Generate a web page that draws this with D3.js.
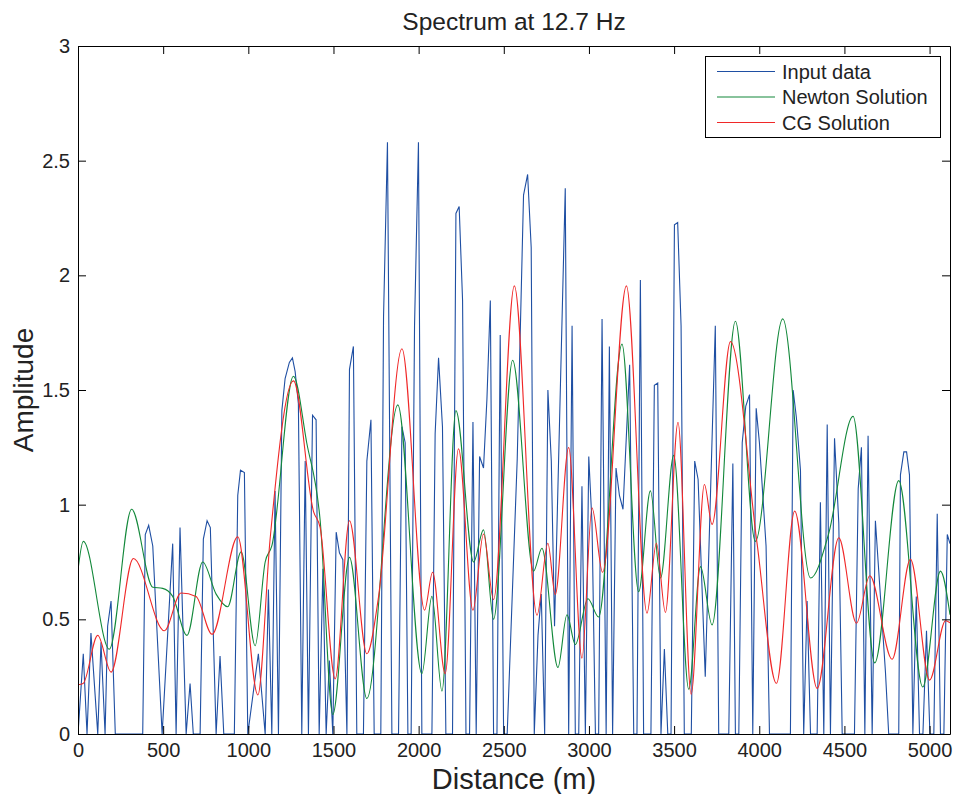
<!DOCTYPE html>
<html>
<head>
<meta charset="utf-8">
<script src="https://cdn.jsdelivr.net/npm/d3@7"></script>
<style>
  body { margin: 0; background: #fff; }
  text { font-family: "Liberation Sans", Arial, Helvetica, sans-serif; fill: #222; }
</style>
</head>
<body>
<svg id="chart" width="957" height="794"></svg>
<script>
// tick labels
var xTicks = [0, 500, 1000, 1500, 2000, 2500, 3000, 3500, 4000, 4500, 5000];
var yTicks = [0, 0.5, 1, 1.5, 2, 2.5, 3];

var seriesNames = ["Input data", "Newton Solution", "CG Solution"];

// [distance (m), amplitude]
var inputData = [
  [0,0],[31,0.35],[53,0],[76,0.44],[116,0],[135,0.40],[159,0],[174,0.47],[194,0.58],[219,0],
  [380,0],[395,0.87],[415,0.91],[439,0.82],[494,0],[556,0.83],[576,0],[599,0.90],[635,0],[658,0.22],[677,0],
  [717,0],[736,0.85],[758,0.93],[777,0.90],[811,0],[834,0.34],[856,0],[918,0],[938,1.04],[954,1.15],[977,1.14],[997,0],
  [1059,0.35],[1099,0],[1118,0.63],[1138,0],[1157,1.06],[1177,0],[1197,1.41],[1216,1.55],[1241,1.62],[1259,1.64],[1275,1.58],[1294,1.44],[1314,0],
  [1334,1.19],[1353,0],[1377,1.39],[1398,1.37],[1416,0],[1438,0.72],[1457,0],[1476,0.32],[1496,0],[1516,0.88],[1535,0.79],[1555,0.76],[1579,0],
  [1594,1.59],[1617,1.69],[1637,0],[1676,0],[1696,1.19],[1720,1.37],[1739,0],[1778,0],[1794,1.82],[1817,2.58],[1843,0],[1882,0],
  [1902,1.34],[1921,1.27],[1937,0],[1956,0],[1976,1.78],[1999,2.58],[2019,0],[2078,0],[2097,1.31],[2117,1.64],[2140,1.34],[2160,0],
  [2199,0],[2219,2.27],[2238,2.30],[2258,1.89],[2278,0],[2299,0],[2319,1.36],[2338,0],[2358,1.21],[2381,1.16],[2401,1.46],[2421,1.89],[2440,0],
  [2460,0],[2479,1.74],[2499,0],[2520,0],[2579,1.2],[2616,2.35],[2640,2.44],[2661,2.12],[2679,0],[2701,0.43],[2720,0.61],[2740,0],
  [2759,1.50],[2779,1.19],[2798,0.47],[2861,2.38],[2881,0],[2901,1.78],[2920,0],[2940,0],[2959,1.08],[2979,0],[2999,1.21],[3018,0.92],[3038,0],
  [3057,0],[3077,1.81],[3101,0],[3120,1.69],[3139,0],[3159,1.16],[3179,1.04],[3200,0.98],[3239,1.61],[3263,0],[3282,0],[3302,1.98],[3321,0],
  [3364,0],[3384,1.52],[3404,1.53],[3423,0],[3443,0.37],[3463,0],[3482,0],[3502,2.22],[3521,2.23],[3541,1.78],[3560,0],[3601,0],
  [3621,1.19],[3641,1.11],[3683,0.25],[3742,1.78],[3762,0],[3821,0],[3845,1.18],[3860,0],[3880,0],[3900,1.27],[3921,1.43],[3943,1.48],[3962,0],
  [3982,1.42],[4001,1.27],[4040,0.82],[4060,0],[4183,0],[4199,1.50],[4218,1.38],[4242,1.15],[4261,0],[4281,0.58],[4301,0],[4340,0],
  [4359,1.01],[4379,0],[4399,1.35],[4418,0],[4442,1.29],[4467,0.92],[4487,0],[4559,0],[4581,1.07],[4600,1.25],[4620,0],[4639,1.30],[4663,0],
  [4682,0.93],[4741,0.27],[4760,0],[4819,0],[4829,1.13],[4849,1.23],[4865,1.23],[4882,1.13],[4902,0],[4922,0.60],[4941,0],[4961,0],[4982,0.45],
  [5002,0],[5025,0],[5045,0.96],[5064,0],[5084,0],[5104,0.87],[5120,0.83]
];

var newtonData = [
  [0,0.715],[31,0.84],[184,0.37],[315,0.98],[439,0.64],[497,0.635],[556,0.60],[640,0.43],[732,0.75],[811,0.61],[879,0.555],
  [958,0.795],[1040,0.385],[1099,0.75],[1138,0.82],[1265,1.56],[1343,1.27],[1422,0.93],[1496,0.085],[1594,0.77],[1696,0.155],
  [1878,1.435],[2019,0.263],[2078,0.60],[2137,0.187],[2219,1.41],[2323,0.75],[2381,0.89],[2440,0.50],[2552,1.63],[2675,0.71],
  [2724,0.81],[2818,0.29],[2871,0.52],[2920,0.39],[2994,0.59],[3057,0.51],[3194,1.70],[3292,0.62],[3361,1.06],[3420,0.68],
  [3498,1.215],[3586,0.195],[3655,0.73],[3723,0.476],[3860,1.80],[3977,0.84],[4138,1.81],[4301,0.68],[4408,0.875],[4551,1.385],
  [4678,0.31],[4819,1.105],[4960,0.205],[5064,0.71],[5120,0.52]
];

var cgData = [
  [0,0.215],[30,0.22],[116,0.43],[194,0.27],[325,0.765],[507,0.45],[605,0.615],[693,0.60],[787,0.435],[938,0.86],[1056,0.17],
  [1128,0.85],[1265,1.54],[1383,0.97],[1422,0.90],[1510,0.24],[1594,0.93],[1696,0.35],[1764,0.595],[1902,1.68],[2035,0.54],
  [2082,0.705],[2156,0.263],[2234,1.244],[2319,0.54],[2381,0.872],[2440,0.586],[2562,1.954],[2695,0.518],[2759,0.832],[2802,0.608],
  [2881,1.249],[2959,0.331],[3018,0.986],[3080,0.705],[3220,1.954],[3341,0.527],[3396,0.832],[3449,0.53],[3523,1.359],[3600,0.173],
  [3678,1.088],[3723,0.914],[3831,1.711],[3987,0.832],[4101,0.221],[4208,0.972],[4340,0.199],[4467,0.856],[4571,0.483],[4649,0.69],
  [4780,0.326],[4888,0.762],[5000,0.235],[5094,0.494],[5120,0.485]
];

const colors = { input: "#1f4fa3", newton: "#12883a", cg: "#f02828" };
const margin = {top: 46, right: 7, bottom: 60, left: 78};
var width = 957 - margin.left - margin.right;
var height = 794 - margin.top - margin.bottom;

var svg = d3.select("#chart");
var chart = svg.append("g")
  .attr("transform", "translate(" + margin.left + "," + margin.top + ")");

var x = d3.scaleLinear().domain([0, 5120]).range([0, width]);
var y = d3.scaleLinear().domain([0, 3]).range([height, 0]);

chart.append("clipPath").attr("id", "plotclip")
  .append("rect").attr("width", width).attr("height", height);

var line = d3.line().x((d) => x(d[0])).y((d) => y(d[1]));
var smooth = d3.line().x((d) => x(d[0])).y((d) => y(d[1])).curve(d3.curveMonotoneX);

var plot = chart.append("g").attr("clip-path", "url(#plotclip)");
plot.append("path").datum(inputData)
  .attr("fill", "none").attr("stroke", colors.input).attr("stroke-width", 1.1)
  .attr("d", line);
plot.append("path").datum(newtonData)
  .attr("fill", "none").attr("stroke", colors.newton).attr("stroke-width", 1.1)
  .attr("d", smooth);
plot.append("path").datum(cgData)
  .attr("fill", "none").attr("stroke", colors.cg).attr("stroke-width", 1.1)
  .attr("d", smooth);

// axes, ticks pointing inward on all four sides
chart.append("g")
  .attr("class", "x-axis")
  .attr("transform", "translate(0," + height + ")")
  .call(d3.axisBottom(x).tickValues(xTicks).tickSize(-8).tickSizeOuter(0).tickPadding(9).tickFormat(d3.format("d")));
chart.append("g")
  .attr("class", "x-axis-top")
  .call(d3.axisTop(x).tickValues(xTicks).tickSize(-8).tickSizeOuter(0).tickFormat(""));
chart.append("g")
  .attr("class", "y-axis")
  .call(d3.axisLeft(y).tickValues(yTicks).tickSize(-8).tickSizeOuter(0).tickPadding(8).tickFormat((d) => d3.format("")(d)));
chart.append("g")
  .attr("class", "y-axis-right")
  .attr("transform", "translate(" + width + ",0)")
  .call(d3.axisRight(y).tickValues(yTicks).tickSize(-8).tickSizeOuter(0).tickFormat(""));

chart.selectAll(".domain, .tick line").attr("stroke", "#000").attr("stroke-width", 1);
chart.selectAll(".tick text").attr("font-size", 20).attr("fill", "#222")
  .style("font-family", "'Liberation Sans', Arial, sans-serif");

// titles
svg.append("text")
  .attr("x", margin.left + width / 2).attr("y", 30)
  .attr("text-anchor", "middle").attr("font-size", 24.5)
  .text("Spectrum at 12.7 Hz");
svg.append("text")
  .attr("x", margin.left + width / 2).attr("y", 789)
  .attr("text-anchor", "middle").attr("font-size", 29)
  .text("Distance (m)");
svg.append("text")
  .attr("transform", "translate(33," + (margin.top + height / 2) + ") rotate(-90)")
  .attr("text-anchor", "middle").attr("font-size", 28)
  .text("Amplitude");

// legend
var legend = svg.append("g").attr("transform", "translate(705,56)");
legend.append("rect")
  .attr("x", 0.5).attr("y", 0.5).attr("width", 235).attr("height", 81)
  .attr("fill", "#fff").attr("stroke", "#000").attr("stroke-width", 1);
var legendColors = [colors.input, colors.newton, colors.cg];
var item = legend.selectAll(".item").data(seriesNames).enter().append("g")
  .attr("class", "item")
  .attr("transform", (d, i) => "translate(0," + (15.5 + i * 25.5) + ")");
item.append("line")
  .attr("x1", 12).attr("x2", 70)
  .attr("stroke", (d, i) => legendColors[i]).attr("stroke-width", 1.1);
item.append("text")
  .attr("x", 77).attr("y", 7)
  .attr("font-size", 20)
  .text((d) => d);
</script>
</body>
</html>
